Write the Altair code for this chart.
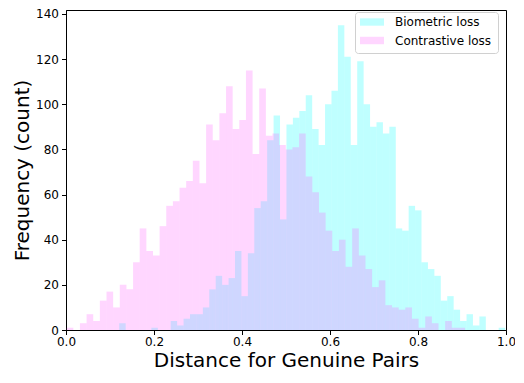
import altair as alt
import pandas as pd
import numpy as np

# Histogram counts (60 bins per series)
bio_counts = [3, 0, 0, 0, 0, 1, 0, 0, 4, 2,
              5, 7, 7, 10, 18, 24, 20, 23, 35, 15,
              34, 54, 57, 84, 95, 49, 91, 94, 97, 104,
              89, 82, 100, 106, 135, 121, 82, 119, 100, 90,
              92, 87, 90, 45, 44, 55, 53, 30, 27, 24,
              13, 15, 9, 4, 7, 2, 6, 0, 0, 1]
con_counts = [1, 0, 3, 7, 4, 13, 17, 10, 20, 18,
              30, 45, 35, 33, 46, 55, 57, 63, 66, 75,
              65, 91, 84, 96, 108, 89, 93, 115, 78, 107,
              86, 87, 82, 80, 81, 87, 68, 61, 52, 44,
              35, 40, 28, 45, 33, 27, 19, 22, 11, 10,
              9, 10, 5, 1, 6, 3, 0, 4, 1, 1]
n_bins = 60
bio_range = (0.121, 0.998)
con_range = (0.0015, 0.907)
labels = ["Biometric loss", "Contrastive loss"]
colors = ["#00ffff", "#ff5bff"]
x_ticks = [0.0, 0.2, 0.4, 0.6, 0.8, 1.0]
y_ticks = [0, 20, 40, 60, 80, 100, 120, 140]

rows = []
for label, counts, (lo, hi) in [(labels[0], bio_counts, bio_range),
                                (labels[1], con_counts, con_range)]:
    edges = np.linspace(lo, hi, n_bins + 1)
    for i, c in enumerate(counts):
        rows.append({"series": label, "start": float(edges[i]),
                     "end": float(edges[i + 1]), "count": c})
df = pd.DataFrame(rows)

bars = alt.Chart(df).mark_bar(opacity=0.25, strokeWidth=0).encode(
    x=alt.X("start:Q",
            scale=alt.Scale(domain=[0, 1], nice=False, zero=False, padding=0),
            axis=alt.Axis(values=x_ticks, format=".1f", labelFlush=False,
                          title="Distance for Genuine Pairs",
                          titleBaseline="alphabetic", titleY=36,
                          labelPadding=2)),
    x2="end:Q",
    y=alt.Y("count:Q", stack=None,
            scale=alt.Scale(domain=[0, 141.75], nice=False, padding=0),
            axis=alt.Axis(values=y_ticks, title="Frequency (count)",
                          labelFlush=False,
                          titleBaseline="alphabetic", titleX=-37.5)),
    y2=alt.datum(0),
    color=alt.Color("series:N",
                    scale=alt.Scale(domain=labels, range=colors),
                    legend=None),
)

# Matplotlib-style legend box, drawn by hand (layout constants only)
legend_df = pd.DataFrame({"label": labels, "color": colors})
box = alt.Chart(legend_df.head(1)).mark_rect(
    fill="white", stroke="#d0d0d0", strokeWidth=1, cornerRadius=3
).encode(
    x=alt.value(289.5), x2=alt.value(432.5),
    y=alt.value(2.5), y2=alt.value(43.5),
)
legend_layers = [box]
row_y = [12.0, 30.5]
for i, (lab, col) in enumerate(zip(labels, colors)):
    one = legend_df[legend_df["label"] == lab]
    legend_layers.append(
        alt.Chart(one).mark_rect(opacity=0.25, strokeWidth=0).encode(
            x=alt.value(294), x2=alt.value(318),
            y=alt.value(row_y[i] - 3.7), y2=alt.value(row_y[i] + 3.7),
            fill=alt.value(col),
        )
    )
    legend_layers.append(
        alt.Chart(one).mark_text(
            align="left", baseline="middle", font="DejaVu Sans",
            fontSize=12, color="black"
        ).encode(
            x=alt.value(329), y=alt.value(row_y[i]),
            text="label:N",
        )
    )

chart = alt.layer(bars, *legend_layers).properties(
    width=440,
    height=320,
    autosize=alt.AutoSizeParams(type="none"),
    padding={"left": 58, "top": 2, "right": 9, "bottom": 41},
).configure_view(
    stroke="black", strokeWidth=1
).configure_axis(
    labelFont="DejaVu Sans", titleFont="DejaVu Sans",
    labelFontSize=12, titleFontSize=20, titleFontWeight="normal",
    labelColor="black", titleColor="black",
    domainColor="black", tickColor="black", tickSize=4.5,
    grid=False, labelPadding=3
)

chart.save("out.html", embed_options={"renderer": "svg", "actions": False})
